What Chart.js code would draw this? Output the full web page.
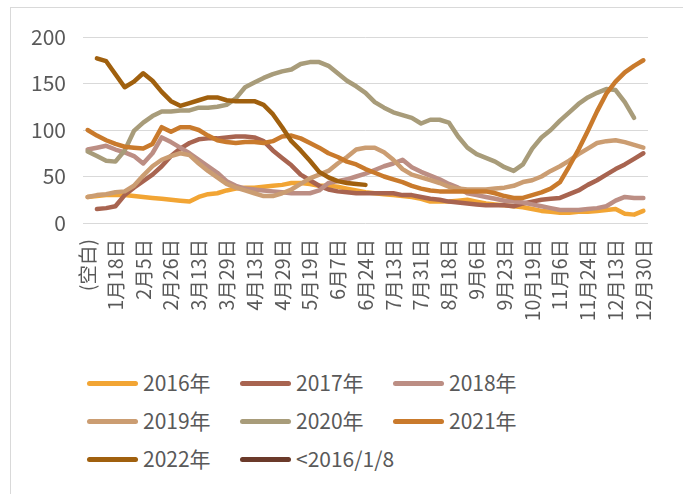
<!DOCTYPE html>
<html>
<head>
<meta charset="utf-8">
<script src="https://cdn.jsdelivr.net/npm/chart.js@4.4.1/dist/chart.umd.min.js"></script>
<style>
  html, body { margin: 0; padding: 0; background: #fff; overflow: hidden; }
  body { width: 683px; height: 494px; position: relative; font-family: "Noto Sans CJK SC", sans-serif; }
  #frame { position: absolute; left: 10px; top: 7px; width: 720px; height: 520px; border: 1px solid #D9D9D9; }
  #chart { position: absolute; left: 0; top: 0; }
  .lg-item { position: absolute; height: 24px; }
  .lg-line { position: absolute; left: 0; top: 10px; width: 51px; height: 5px; border-radius: 3px; }
  .lg-text { position: absolute; left: 56px; top: -4px; font-size: 21px; color: #595959; white-space: nowrap; }
</style>
</head>
<body>
<div id="frame"></div>
<canvas id="chart" width="683" height="345"></canvas>
<div id="legend"></div>
<script>
// date labels shown on the axis (every 3rd category)
const tickLabels = ["(空白)", "1月18日", "2月5日", "2月26日", "3月13日", "3月29日", "4月13日", "4月29日",
  "5月19日", "6月7日", "6月24日", "7月13日", "7月31日", "8月18日", "9月6日", "9月23日",
  "10月19日", "11月6日", "11月24日", "12月13日", "12月30日"];

const seriesNames = ["2016年", "2017年", "2018年", "2019年", "2020年", "2021年", "2022年", "<2016/1/8"];
const seriesColors = ["#F2A534", "#A86450", "#BC8E84", "#CB9D72", "#A89C7A", "#C97A2C", "#A0600E", "#6B3A2A"];

const y2016 = [28,29,30,30,30,29,28,27,26,25, 24,23,28,31,32,35,37,38,38,39,
  40,41,43,43,42,40,40,39,37,35, 33,32,31,30,29,28,26,23,23,23,
  24,25,23,21,20,19,18,17,15,13, 12,11,11,12,12,13,14,15,10,9,13];
const y2017 = [null,15,16,18,30,38,45,52,61,72, 80,86,90,91,91,92,93,93,92,88,
  78,70,62,52,46,40,36,34,33,32, 32,32,32,32,30,30,28,26,25,23,
  22,21,20,19,19,19,18,21,23,25, 26,27,31,35,41,46,52,58,63,69,75];
const y2018 = [79,81,83,79,76,72,64,75,92,87, 81,75,68,61,54,45,40,37,36,35,
  34,33,32,32,32,35,43,45,47,50, 53,57,61,64,68,60,55,51,47,42,
  38,32,30,28,26,24,23,22,20,18, 16,14,14,14,15,16,18,24,28,27,27];
const y2019 = [28,30,31,33,34,40,51,61,68,72, 75,73,64,56,49,42,38,35,32,29,
  29,32,36,42,48,52,56,64,71,79, 81,81,76,68,58,52,49,46,43,39,
  37,36,36,36,37,38,40,44,46,50, 56,61,67,74,80,86,88,89,87,84,81];
const y2020 = [77,72,67,66,78,99,108,115,120,120, 121,121,124,124,125,127,134,146,151,156,
  160,163,165,171,173,173,169,161,153,147, 140,130,124,119,116,113,107,111,111,108,
  93,81,74,70,66,60,56,63,80,92, 100,110,119,128,135,140,144,143,130,113,null];
const y2021 = [100,94,89,85,82,81,80,85,103,98, 103,103,100,94,89,87,86,87,87,86,
  88,93,94,91,86,81,75,71,66,63, 58,54,50,47,44,40,37,35,34,34,
  34,34,34,34,32,29,27,27,30,33, 37,44,61,79,99,120,139,152,162,169,175];
const y2022 = [null,177,174,160,146,152,161,153,141,131, 126,129,132,135,135,132,131,131,131,127,
  117,103,88,78,67,55,49,45,43,42, 41,null,null,null,null,null,null,null,null,null,
  null,null,null,null,null,null,null,null,null,null, null,null,null,null,null,null,null,null,null,null,null];
const yBefore2016 = [];

const seriesData = [y2016, y2017, y2018, y2019, y2020, y2021, y2022, yBefore2016];

// 61 categories, a date label on every third one
const categories = [];
for (let i = 0; i < y2016.length; i++) {
  categories.push(i % 3 === 0 ? tickLabels[i / 3] : "");
}

const textColor = "#595959";
const fontFamily = "'Noto Sans CJK SC', sans-serif";

const datasets = seriesNames.map((name, i) => ({
  label: name,
  data: seriesData[i],
  borderColor: seriesColors[i],
  backgroundColor: seriesColors[i],
  borderWidth: 4.5,
  borderCapStyle: "round",
  borderJoinStyle: "round",
  pointRadius: 0,
  tension: 0,
  spanGaps: false,
  order: seriesNames.length - i, // later years drawn on top
}));

const chart = new Chart(document.getElementById("chart"), {
  type: "line",
  data: { labels: categories, datasets: datasets },
  options: {
    responsive: false,
    animation: false,
    layout: { padding: { top: 37, right: 30, left: 0, bottom: 0 } },
    plugins: { legend: { display: false }, tooltip: { enabled: false } },
    scales: {
      x: {
        offset: true,
        grid: { display: false, drawTicks: false },
        border: { display: false },
        ticks: {
          autoSkip: false,
          minRotation: 90,
          maxRotation: 90,
          padding: 16,
          color: textColor,
          font: { family: fontFamily, size: 19.5 },
        },
        afterFit: (scale) => { scale.height = 122; },
      },
      y: {
        min: 0,
        max: 200,
        grid: { color: "#D9D9D9", lineWidth: 1, drawTicks: false },
        border: { display: false },
        ticks: {
          stepSize: 50,
          padding: 17,
          color: textColor,
          font: { family: fontFamily, size: 21 },
        },
        afterFit: (scale) => { scale.width = 83; },
      },
    },
  },
});

// legend in three fixed columns, like the original
const legend = document.getElementById("legend");
const colX = [87, 240, 393];
const rowY = [371, 409, 447];
chart.data.datasets.forEach((ds, i) => {
  const item = document.createElement("div");
  item.className = "lg-item";
  item.style.left = colX[i % 3] + "px";
  item.style.top = rowY[Math.floor(i / 3)] + "px";
  const line = document.createElement("span");
  line.className = "lg-line";
  line.style.background = ds.borderColor;
  const text = document.createElement("span");
  text.className = "lg-text";
  text.textContent = ds.label;
  item.appendChild(line);
  item.appendChild(text);
  legend.appendChild(item);
});
</script>
</body>
</html>
